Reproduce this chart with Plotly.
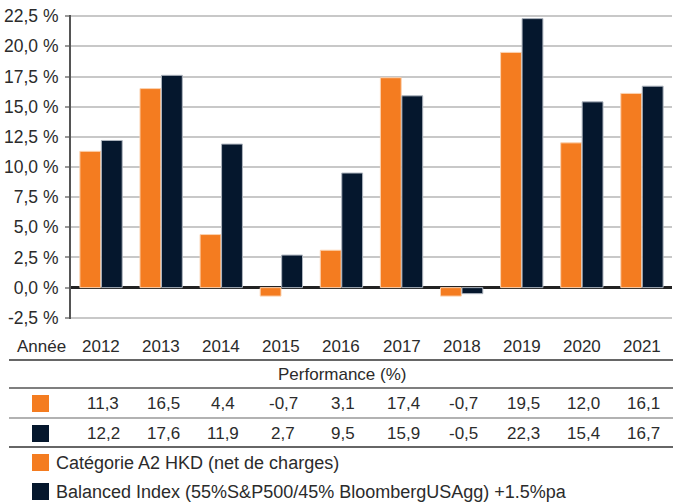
import plotly.graph_objects as go

years = ["2012", "2013", "2014", "2015", "2016", "2017", "2018", "2019", "2020", "2021"]
fund = [11.3, 16.5, 4.4, -0.7, 3.1, 17.4, -0.7, 19.5, 12.0, 16.1]
index = [12.2, 17.6, 11.9, 2.7, 9.5, 15.9, -0.5, 22.3, 15.4, 16.7]
fund_name = "Catégorie A2 HKD (net de charges)"
index_name = "Balanced Index (55%S&P500/45% BloombergUSAgg) +1.5%pa"
tick_vals = [-2.5, 0, 2.5, 5, 7.5, 10, 12.5, 15, 17.5, 20, 22.5]
tick_text = ["-2,5 %", "0,0 %", "2,5 %", "5,0 %", "7,5 %", "10,0 %", "12,5 %",
             "15,0 %", "17,5 %", "20,0 %", "22,5 %"]

ORANGE = "#F47C20"
NAVY = "#05172D"
TXT = "#2b2b2b"
FONT = "Liberation Sans, Arial, sans-serif"

W, H = 673, 502
# plot area in page pixels: x 71..672, y 15..319
L, R, T, B = 71, 1, 15, 502 - 319
PW = W - L - R
PH = H - T - B
PB = H - B  # page y of plot bottom


def py(ypx):
    return (PB - ypx) / PH


def px(xpx):
    return (xpx - L) / PW


def fmt(v):
    return f"{v:.1f}".replace(".", ",")


fig = go.Figure()
fig.add_trace(go.Bar(x=years, y=fund, name=fund_name, marker_color=ORANGE,
                     marker_line=dict(color="#FBD2B0", width=1)))
fig.add_trace(go.Bar(x=years, y=index, name=index_name, marker_color=NAVY,
                     marker_line=dict(color="#AEB5BF", width=1)))

ann = []
shapes = []
fs = 17
fl = 18
# year row
ann.append(dict(x=px(68), y=py(346), xref="paper", yref="paper", text="Année",
                showarrow=False, xanchor="right", yanchor="middle",
                font=dict(size=fs, color=TXT, family=FONT)))
for i, yr in enumerate(years):
    ann.append(dict(x=i, y=py(346), xref="x", yref="paper", text=yr, showarrow=False,
                    xanchor="center", yanchor="middle", font=dict(size=fs, color=TXT, family=FONT)))
    ann.append(dict(x=i, y=py(403), xref="x", yref="paper", text=fmt(fund[i]), showarrow=False,
                    xanchor="center", yanchor="middle", xshift=2,
                    font=dict(size=fs, color=TXT, family=FONT)))
    ann.append(dict(x=i, y=py(433), xref="x", yref="paper", text=fmt(index[i]), showarrow=False,
                    xanchor="center", yanchor="middle", xshift=2,
                    font=dict(size=fs, color=TXT, family=FONT)))
ann.append(dict(x=px(342), y=py(374), xref="paper", yref="paper", text="Performance (%)",
                showarrow=False, xanchor="center", yanchor="middle",
                font=dict(size=fs, color=TXT, family=FONT)))
ann.append(dict(x=px(54), y=py(463), xref="paper", yref="paper", text=fund_name,
                showarrow=False, xanchor="left", yanchor="middle",
                font=dict(size=fl, color=TXT, family=FONT)))
ann.append(dict(x=px(54), y=py(492), xref="paper", yref="paper", text=index_name,
                showarrow=False, xanchor="left", yanchor="middle",
                font=dict(size=fl, color=TXT, family=FONT)))

# edge gridlines (top and bottom)
for v in (tick_vals[0], tick_vals[-1]):
    shapes.append(dict(type="line", xref="paper", yref="y", x0=0, x1=1, y0=v, y1=v,
                       line=dict(color="#C8C8C8", width=1.5), layer="below"))
# table lines
for ypx, col in [(360, "#333333"), (388, "#555555"), (418, "#999999"), (447, "#333333")]:
    shapes.append(dict(type="line", xref="paper", yref="paper", x0=px(9), x1=px(673),
                       y0=py(ypx), y1=py(ypx), line=dict(color=col, width=1.5)))
# squares
for (y0, y1, col) in [(395, 412, ORANGE), (425, 442, NAVY), (454, 471, ORANGE), (483, 500, NAVY)]:
    shapes.append(dict(type="rect", xref="paper", yref="paper", x0=px(32), x1=px(49),
                       y0=py(y1), y1=py(y0), fillcolor=col, line=dict(width=0)))

fig.update_layout(
    width=W, height=H,
    margin=dict(l=L, r=R, t=T, b=B, autoexpand=False),
    paper_bgcolor="white", plot_bgcolor="white",
    barmode="group", bargap=0.285, bargroupgap=0.03,
    showlegend=False,
    font=dict(family=FONT, color=TXT, size=fs),
    xaxis=dict(type="category", range=[-0.5, len(years) - 0.5], showticklabels=False,
               showgrid=False, zeroline=False, showline=False, ticks="",
               fixedrange=True, automargin=False),
    yaxis=dict(range=[-2.6, 22.6], tickvals=tick_vals, ticktext=tick_text, automargin=False,
               showgrid=True, gridcolor="#C8C8C8", gridwidth=1.5,
               zeroline=True, zerolinecolor="#222222", zerolinewidth=2.5,
               showline=True, linecolor="#555555", linewidth=2,
               ticks="outside", ticklen=4, tickcolor="#999999", tickwidth=1.5,
               tickfont=dict(size=17.5, color=TXT, family=FONT), ticklabelstandoff=3),
    annotations=ann, shapes=shapes,
)

fig.write_html("out.html", config={"displayModeBar": False},
               post_script="document.body.style.margin='0';")
